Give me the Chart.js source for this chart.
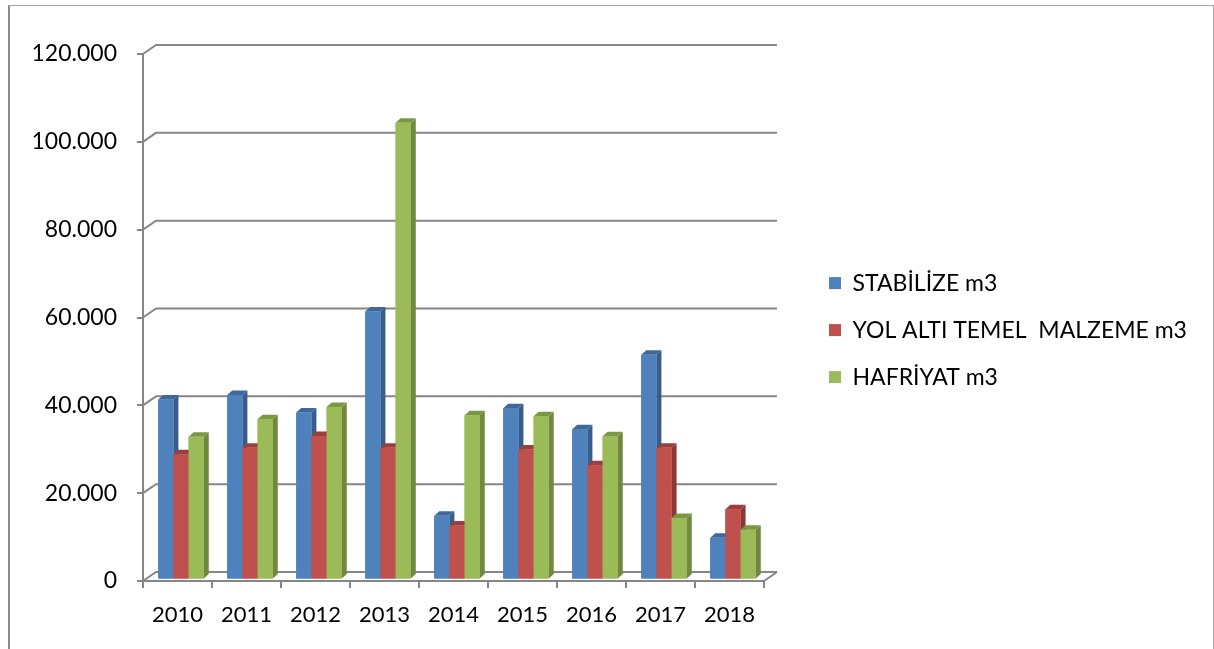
<!DOCTYPE html>
<html>
<head>
<meta charset="utf-8">
<script src="https://cdn.jsdelivr.net/npm/chart.js@4.4.1/dist/chart.umd.min.js"></script>
<style>
  html, body { margin: 0; padding: 0; background: #fff; overflow: hidden; }
  #wrap { position: relative; width: 1214px; height: 649px; }
  #frame {
    position: absolute; left: 8px; top: 5px; width: 1206px; height: 700px;
    box-sizing: border-box; border: 1px solid #a6a6a6; border-left: 2px solid #8c8c8c;
  }
  canvas { position: absolute; left: 0; top: 0; }
</style>
</head>
<body>
<div id="wrap">
  <div id="frame"></div>
  <canvas id="chart" width="1214" height="649"></canvas>
</div>
<script>
const years = ['2010', '2011', '2012', '2013', '2014', '2015', '2016', '2017', '2018'];
const stabilize = [41000, 42000, 38000, 61000, 14500, 39000, 34200, 51200, 9500];
const yolAltiTemel = [28500, 30000, 32700, 30000, 12300, 29600, 26000, 30000, 16000];
const hafriyat = [32500, 36500, 39300, 104000, 37400, 37200, 32600, 14000, 11300];
const yTickLabels = ['0', '20.000', '40.000', '60.000', '80.000', '100.000', '120.000'];
const seriesNames = ['STABİLİZE m3', 'YOL ALTI TEMEL  MALZEME m3', 'HAFRİYAT m3'];

const frontColors = ['#4F81BD', '#C0504D', '#9BBB59'];
const sideColors = ['#385D8A', '#8C3836', '#71893F'];
const topColors = ['#3F6898', '#9C3F3C', '#7C9744'];
const gridColor = '#868686';
const fontFamily = 'Lato, Carlito, Calibri, sans-serif';
const yFontSize = 23;
const xFontSize = 22;
const legendFontSize = 23;

// 3d look: back wall offset, bar shift into depth, bar side depth
const WALL = { dx: 13, dy: -9 };
const SHIFT = { dx: 3.5, dy: -1.5 };
const SIDE = { dx: 5, dy: -4.5 };

// legend swatches start at x=829, plot ends at x=764
const legendPad = 24;
const legendLeft = 829 - legendPad;
const probe = document.createElement('canvas').getContext('2d');
probe.font = legendFontSize + 'px ' + fontFamily;
const legendTextW = Math.max(...seriesNames.map(s => probe.measureText(s).width));
const legendW = legendPad + 12 + legendFontSize / 2 + legendTextW + 10;
const padRight = Math.max(0, 1214 - legendLeft - legendW);

Chart.defaults.font.family = fontFamily;
Chart.defaults.color = '#000';

const pseudo3d = {
    id: 'pseudo3d',
    beforeDatasetsDraw(chart) {
        const { ctx, chartArea: a, scales: { y } } = chart;
        ctx.save();
        ctx.strokeStyle = gridColor;
        ctx.lineWidth = 2;
        y.ticks.forEach(t => {
            const py = y.getPixelForValue(t.value);
            ctx.beginPath();
            ctx.moveTo(a.left, py);
            ctx.lineTo(a.left + WALL.dx, py + WALL.dy);
            ctx.lineTo(a.right + WALL.dx, py + WALL.dy);
            ctx.stroke();
        });
        ctx.beginPath();
        ctx.moveTo(a.right, a.bottom);
        ctx.lineTo(a.right + WALL.dx, a.bottom + WALL.dy);
        ctx.stroke();
        ctx.restore();

        ctx.save();
        ctx.translate(SHIFT.dx, SHIFT.dy);
    },
    afterDatasetsDraw(chart) {
        const ctx = chart.ctx;
        // redraw left to right so each bar hides the side of the one before it
        for (let i = 0; i < chart.data.labels.length; i++) {
            chart.data.datasets.forEach((ds, d) => {
                const bar = chart.getDatasetMeta(d).data[i];
                const { x, y, base, width } = bar.getProps(['x', 'y', 'base', 'width'], true);
                const l = x - width / 2, r = x + width / 2;
                ctx.fillStyle = sideColors[d];
                ctx.beginPath();
                ctx.moveTo(r, y);
                ctx.lineTo(r + SIDE.dx, y + SIDE.dy);
                ctx.lineTo(r + SIDE.dx, base + SIDE.dy);
                ctx.lineTo(r, base);
                ctx.closePath();
                ctx.fill();
                ctx.fillStyle = topColors[d];
                ctx.beginPath();
                ctx.moveTo(l, y);
                ctx.lineTo(l + SIDE.dx, y + SIDE.dy);
                ctx.lineTo(r + SIDE.dx, y + SIDE.dy);
                ctx.lineTo(r, y);
                ctx.closePath();
                ctx.fill();
                bar.draw(ctx);
            });
        }
        ctx.restore();
    }
};

new Chart(document.getElementById('chart'), {
    type: 'bar',
    data: {
        labels: years,
        datasets: [stabilize, yolAltiTemel, hafriyat].map((values, d) => ({
            label: seriesNames[d],
            data: values,
            backgroundColor: frontColors[d],
            borderWidth: 0,
            categoryPercentage: 0.66,
            barPercentage: 1.0
        }))
    },
    options: {
        responsive: false,
        animation: false,
        events: [],
        layout: { padding: { top: 54, right: padRight, bottom: 0, left: 0 } },
        scales: {
            x: {
                ticks: { font: { size: xFontSize }, padding: 14 },
                grid: { drawOnChartArea: false, color: gridColor, lineWidth: 2, tickLength: 7, offset: true },
                border: { color: gridColor, width: 2 },
                afterFit: s => { s.height = 68; }
            },
            y: {
                min: 0,
                max: 120000,
                ticks: { stepSize: 20000, padding: 20, font: { size: yFontSize }, callback: (v, i) => yTickLabels[i] },
                grid: { drawOnChartArea: false, color: gridColor, lineWidth: 2, tickLength: 6 },
                border: { color: gridColor, width: 2 },
                afterFit: s => { s.width = 143; }
            },
            gap: {
                type: 'linear',
                position: 'right',
                grid: { display: false },
                border: { display: false },
                ticks: { display: false },
                afterFit: s => { s.width = legendLeft - 764; }
            }
        },
        plugins: {
            legend: {
                position: 'right',
                align: 'center',
                fullSize: false,
                maxWidth: 600,
                title: { display: true, text: '', padding: 0, font: { size: 21 } },
                labels: { boxWidth: 12, boxHeight: 12, padding: legendPad, font: { size: legendFontSize } }
            },
            tooltip: { enabled: false }
        }
    },
    plugins: [pseudo3d]
});
</script>
</body>
</html>
